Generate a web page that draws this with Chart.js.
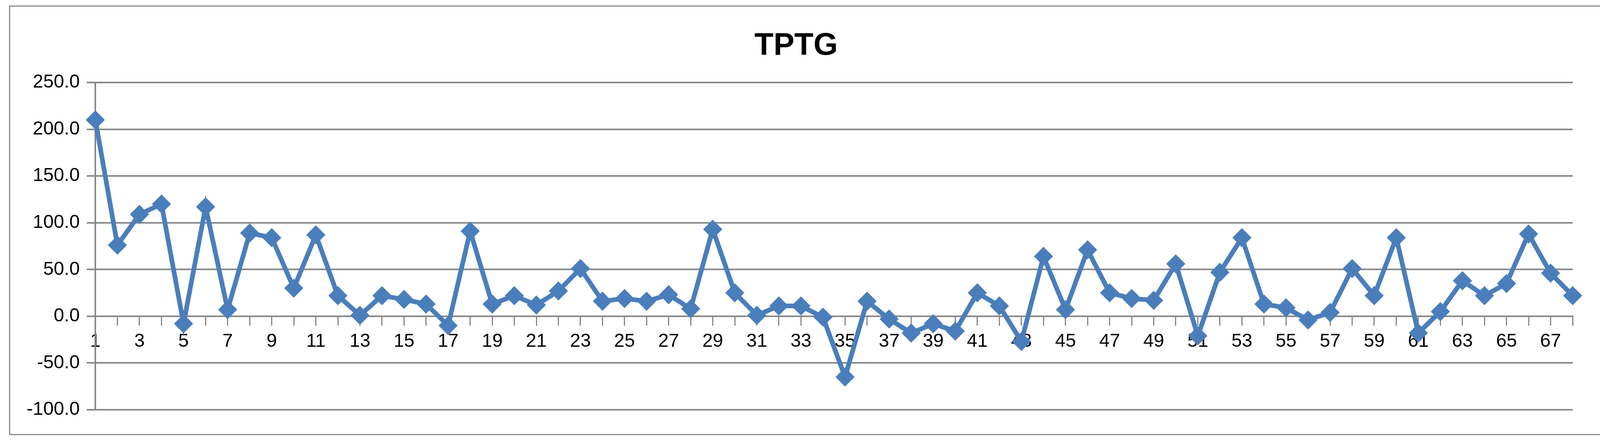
<!DOCTYPE html>
<html>
<head>
<meta charset="utf-8">
<script src="https://cdn.jsdelivr.net/npm/chart.js@4"></script>
<style>
  html, body { margin: 0; padding: 0; background: #fff; }
  #wrap { position: absolute; left: 0; top: 0; width: 4426px; height: 1128px; }
  #frame { position: absolute; left: 23px; top: 14px; width: 4378px; height: 1099px; border: 3px solid #8c8c8c; box-sizing: border-box; pointer-events: none; }
  #legend { position: absolute; left: 4130px; top: 610px; display: flex; align-items: center; font-family: "Liberation Sans Narrow", "Liberation Sans", sans-serif; font-size: 46px; color: #222; }
  #legend .mark { position: relative; width: 100px; height: 40px; margin-right: 6px; }
  #legend .mark:before { content: ""; position: absolute; left: 0; right: 0; top: 15px; height: 11px; background: #4a7ebb; border-radius: 5px; }
  #legend .mark:after { content: ""; position: absolute; left: 36px; top: 6px; width: 27px; height: 27px; background: #4a7ebb; transform: rotate(45deg); }
</style>
</head>
<body>
<div id="wrap">
  <canvas id="chart" width="4426" height="1128"></canvas>
  <div id="frame"></div>
  <div id="legend"><span class="mark"></span><span id="legendText"></span></div>
</div>
<script>
const seriesName = "TPTG";
const categories = Array.from({ length: 68 }, (_, i) => String(i + 1));
const tptg = [210, 76, 109, 120, -8, 117, 7, 89, 84, 30,
  87, 22, 1, 22, 18, 13, -10, 91, 13, 22,
  12, 27, 51, 16, 19, 16, 23, 8, 93, 25,
  1, 11, 11, -1, -65, 16, -3, -18, -8, -16,
  25, 11, -27, 64, 7, 71, 25, 19, 17, 56,
  -21, 47, 84, 13, 9, -4, 4, 51, 22, 84,
  -18, 5, 38, 22, 35, 88, 46, 22];
const yMin = -100, yMax = 250, yStep = 50;

const gridColor = "#878787";
const lineColor = "#4a7ebb";
const tickFont = { family: "Liberation Sans Narrow, Liberation Sans", size: 48 };

document.getElementById("legendText").innerText = seriesName;

new Chart(document.getElementById("chart"), {
  type: "line",
  data: {
    labels: categories,
    datasets: [{
      label: seriesName,
      data: tptg,
      borderColor: lineColor,
      backgroundColor: lineColor,
      borderWidth: 12,
      pointStyle: "rectRot",
      pointRadius: 16,
      pointHoverRadius: 16,
      tension: 0
    }]
  },
  options: {
    responsive: false,
    animation: false,
    devicePixelRatio: 1,
    layout: { padding: { left: 50, right: 400, top: 40, bottom: 80 } },
    plugins: {
      title: {
        display: true,
        text: "TPTG",
        color: "#000",
        font: { family: "Liberation Sans", size: 80, weight: "bold" },
        padding: { top: 30, bottom: 45 }
      },
      legend: { display: false },
      tooltip: { enabled: false }
    },
    scales: {
      x: {
        position: { y: 0 },
        grid: { drawOnChartArea: false, color: gridColor, lineWidth: 3, tickLength: 22, offset: false },
        border: { color: gridColor, width: 4 },
        offset: false,
        ticks: {
          color: "#000",
          font: tickFont,
          autoSkip: false,
          maxRotation: 0,
          padding: 14,
          callback: function (v, i) { return i % 2 === 0 ? this.getLabelForValue(v) : ""; }
        }
      },
      y: {
        min: yMin,
        max: yMax,
        ticks: {
          stepSize: yStep,
          color: "#000",
          font: tickFont,
          padding: 18,
          callback: v => v.toFixed(1)
        },
        grid: { color: gridColor, lineWidth: 4, tickLength: 22 },
        border: { color: gridColor, width: 4 }
      }
    }
  }
});
</script>
</body>
</html>
